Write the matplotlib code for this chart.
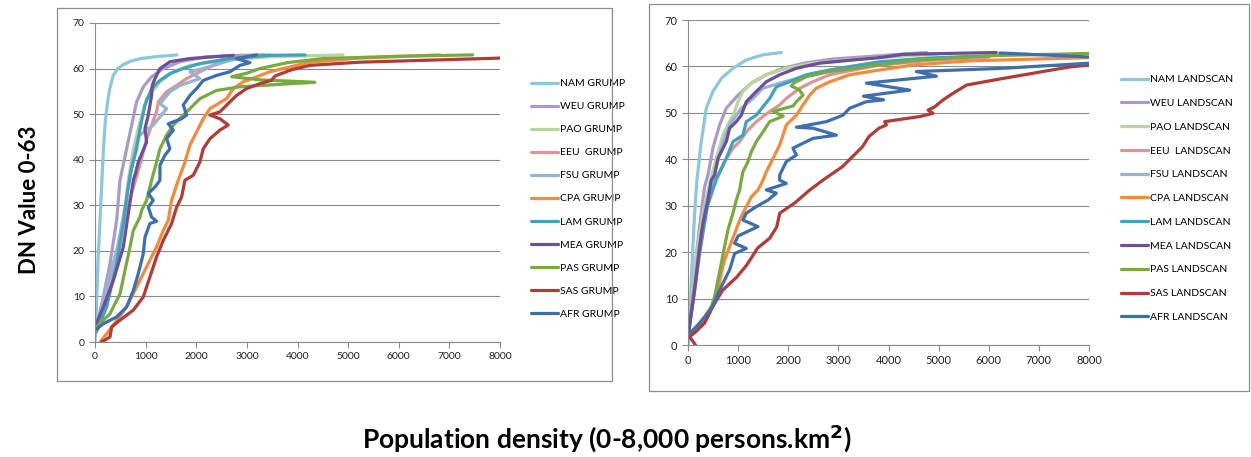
import matplotlib
matplotlib.use("Agg")
import matplotlib.pyplot as plt
from matplotlib.patches import Rectangle

plt.rcParams['font.family'] = ['Lato', 'DejaVu Sans']

# ---- GRUMP panel (density, DN value) ----
nam_grump_x = [0, 30, 60, 100, 135, 165, 200, 240, 290, 360, 450, 550, 700, 900, 1200, 1620]
nam_grump_y = [0, 8, 18, 27, 35, 42, 48, 52, 55.5, 58.5, 60, 60.8, 61.6, 62.2, 62.6, 63]
weu_grump_x = [0, 33, 165, 296, 428, 494, 625, 724, 822, 954, 1118, 1349, 1678, 2204, 2800, 3350]
weu_grump_y = [1.5, 3.3, 9.9, 17.2, 26.7, 35.5, 42.4, 47.6, 52.7, 56, 58.2, 60, 61.5, 62.6, 62.9, 63]
pao_grump_x = [0, 99, 296, 494, 592, 658, 757, 888, 1020, 1283, 1546, 1875, 2533, 3454, 4900]
pao_grump_y = [1.5, 4, 11.3, 20.8, 28.2, 35.5, 42.4, 48.3, 53.4, 57.1, 59.3, 60.7, 61.8, 62.6, 63]
eeu_grump_x = [0, 40, 220, 430, 625, 800, 921, 1020, 1118, 1217, 1250, 1415, 1612, 1809, 2072, 2336, 2467, 2900, 3450]
eeu_grump_y = [1.5, 4, 11, 20, 29, 35.5, 40.2, 44.6, 47.6, 50.5, 52.7, 54.9, 56.3, 57.8, 59.3, 60.7, 61.8, 62.6, 63]
fsu_grump_x = [0, 50, 230, 450, 600, 750, 855, 1000, 1151, 1415, 1283, 1480, 1678, 2072, 1875, 2138, 2665, 3000]
fsu_grump_y = [1.5, 4.5, 12, 21, 30, 40, 45, 46.5, 47.6, 51.2, 52.3, 54.9, 56.3, 57.8, 59.3, 60, 61.8, 62.5]
cpa_grump_x = [100, 230, 428, 625, 822, 1020, 1217, 1349, 1447, 1513, 1645, 1777, 1875, 2006, 2138,
               2270, 2599, 2730, 2928, 3191, 3454, 4244, 5231, 6810]
cpa_grump_y = [0, 1.8, 4.7, 7.7, 12.1, 16.5, 20.9, 24.5, 26.7, 31.1, 35.5, 39.5, 43.2, 46.1, 49,
               51.2, 53.4, 55.6, 57.1, 58.2, 59.3, 61.4, 62.3, 63]
lam_grump_x = [0, 60, 230, 428, 559, 640, 710, 822, 888, 987, 1118, 1283, 1480, 1744, 2072, 2665, 3454, 4150]
lam_grump_y = [2, 3, 7.7, 17.2, 26, 33, 37.5, 42.4, 46.8, 52, 55.6, 57.4, 58.9, 60, 61.1, 62.2, 62.9, 63]
mea_grump_x = [0, 165, 362, 559, 658, 757, 800, 855, 1020, 987, 1053, 1118, 1130, 1184, 1283, 1480, 1875, 2730]
mea_grump_y = [3.3, 7.7, 13.5, 20.8, 28.2, 35.5, 37, 39.5, 43.9, 46.8, 49.8, 54.1, 56.3, 57.8, 60, 61.5, 62.2, 62.9]
pas_grump_x = [0, 33, 296, 494, 592, 691, 757, 888, 921, 1020, 1085, 1118, 1217, 1283, 1415, 1546, 1744,
               1875, 2072, 2401, 2862, 3300, 4343, 3300, 2700, 3000, 3257, 3800, 4500, 6000, 7460]
pas_grump_y = [2, 3.3, 6.2, 10.6, 15.7, 20.8, 24.5, 27.4, 28.9, 31.1, 34, 35.5, 39.5, 42.4, 45.4, 47.6, 49.8,
               51.2, 53.4, 55.2, 56.0, 56.3, 57.0, 57.5, 58.2, 59, 60, 61.3, 62.2, 62.7, 63]
sas_grump_x = [130, 296, 329, 494, 757, 954, 1085, 1217, 1349, 1513, 1612, 1711, 1777, 1941, 2072, 2138,
               2270, 2467, 2632, 2467, 2270, 2467, 2665, 2796, 2994, 3257, 3480, 3560, 3900, 4244, 5231, 8000]
sas_grump_y = [0, 1.1, 3.3, 4.8, 7, 9.9, 14.3, 18.7, 22.3, 26, 29.6, 31.8, 35.5, 36.6, 39.5, 42.4,
               44.6, 46.5, 47.6, 49, 49.8, 50.5, 52.7, 54.1, 55.6, 56.7, 57.4, 58.4, 59.8, 60.7, 61.4, 62.3]
afr_grump_x = [0, 165, 428, 625, 757, 855, 954, 987, 1085, 1217, 1118, 1053, 1151, 1053, 1184, 1283, 1283,
               1382, 1480, 1415, 1546, 1447, 1711, 1809, 1744, 1875, 2006, 2138, 2401, 2665, 2862, 3060, 2796, 3191]
afr_grump_y = [2.6, 4, 5.5, 7.7, 11.3, 15, 19.4, 23, 26, 26.5, 27.4, 29.6, 31.1, 32.6, 34, 35.5, 38.8,
               41, 42.4, 44.6, 46.5, 47.9, 49, 49.8, 52, 54.1, 55.6, 57.4, 58.5, 59.3, 60.7, 61.3, 62.2, 63]

# ---- LANDSCAN panel ----
nam_land_x = [0, 30, 65, 132, 165, 178, 265, 364, 497, 664, 897, 1163, 1495, 1861]
nam_land_y = [0, 2, 14, 28.4, 33.5, 35.5, 43.8, 51, 54.6, 57.4, 59.6, 61.4, 62.5, 63]
weu_land_x = [0, 60, 150, 260, 331, 398, 497, 631, 764, 997, 1263, 1562, 1895, 2360, 2893, 3558, 4200, 4760]
weu_land_y = [1.8, 8, 18, 28, 34.1, 36.6, 42.4, 47.4, 51, 53.8, 56.4, 58.2, 59.6, 60.8, 61.6, 62.1, 62.6, 63]
pao_land_x = [0, 70, 180, 310, 440, 564, 697, 830, 930, 997, 1096, 1296, 1562, 1961, 2493, 3159, 3824, 5000]
pao_land_y = [2, 10, 20, 29, 35.2, 40.2, 45.2, 48.1, 50.3, 52.4, 54.6, 56.7, 58.2, 59.6, 60.7, 61.4, 61.9, 62.7]
eeu_land_x = [0, 110, 240, 380, 520, 730, 897, 1030, 1163, 1363, 1629, 1829, 1961, 2227, 2493, 2826,
              3292, 3824, 4800, 6000]
eeu_land_y = [1.8, 10, 20, 30, 35, 39.5, 42.4, 43.8, 45.9, 48.1, 50.3, 51.7, 53.1, 55.3, 56.7, 58.2,
              59.2, 60.3, 61.3, 62]
fsu_land_x = [0, 90, 210, 350, 480, 664, 830, 1063, 1296, 1495, 1829, 2161, 2493, 3026, 3558, 4300, 5000]
fsu_land_y = [2, 10, 20, 30, 35, 42.4, 47.4, 51, 53.1, 55.3, 56.4, 57.4, 58.5, 59.6, 60.5, 61.3, 61.8]
cpa_land_x = [0, 298, 464, 598, 664, 730, 830, 930, 1030, 1096, 1163, 1263, 1396, 1462, 1495, 1562, 1729,
              1829, 1895, 1961, 2161, 2294, 2427, 2560, 2826, 3225, 3625, 4480, 5620, 8000]
cpa_land_y = [1.8, 5.4, 8.3, 11.8, 15.4, 18.3, 21.2, 24, 26.9, 28.4, 29.8, 31.9, 33.4, 34.8, 35.5, 37.3, 40.9,
              43.1, 45.2, 47.4, 49.5, 51.7, 53.8, 55.3, 56.7, 58.2, 58.9, 60.3, 61.2, 61.9]
lam_land_x = [0, 100, 230, 390, 560, 764, 897, 1096, 1163, 1363, 1495, 1629, 1762, 2028, 2360, 2826,
              3425, 3824, 4800, 6000]
lam_land_y = [1.8, 10, 20, 30, 35.5, 40.2, 43.8, 45.2, 48.1, 49.5, 51.3, 53.1, 55.6, 56.7, 58.2, 59.2,
              60.3, 61, 61.8, 62.3]
mea_land_x = [0, 132, 232, 298, 398, 464, 531, 598, 764, 830, 963, 1063, 1163, 1363, 1562, 1829, 2161,
              2627, 3292, 3824, 4290, 6150]
mea_land_y = [1.8, 11.8, 21.2, 26.2, 31.2, 35.5, 36.6, 40.2, 43.8, 46.7, 48.1, 49.5, 52.4, 54.6, 56.7, 58.2, 59.6,
              60.7, 61.4, 61.9, 62.6, 63]
pas_land_x = [0, 232, 431, 531, 598, 664, 730, 797, 897, 963, 1030, 1063, 1096, 1196, 1263, 1363, 1495,
              1629, 1900, 1700, 2100, 2161, 2294, 2227, 2060, 2120, 2360, 2826, 3425, 3625, 4620, 6000, 8000]
pas_land_y = [1.8, 3.9, 6.8, 10.4, 14, 17.6, 21.2, 24.8, 28.4, 31.2, 33.4, 35.5, 37.3, 39.5, 41.6, 43.8, 45.9,
              48.1, 49.3, 50.3, 51.5, 52.4, 53.8, 54.9, 55.8, 56.5, 57.8, 58.9, 59.7, 60.1, 61.4, 62.3, 62.8]
sas_land_x = [150, 30, 130, 330, 490, 690, 970, 1170, 1390, 1630, 1770, 1830, 2130, 2430, 2690, 3080, 3480,
              3610, 3810, 3958, 3924, 4300, 4623, 4889, 4789, 4922, 5089, 5300, 5560, 6280, 7080, 7620, 8000]
sas_land_y = [0, 1.8, 2.6, 4.7, 8.2, 11.8, 14.6, 17.2, 20.9, 23, 25.4, 28.4, 30.6, 33.4, 35.5, 38.4, 42.7,
              44.9, 46.7, 47.4, 48.1, 48.7, 49.2, 49.9, 50.6, 51.3, 52.8, 54.3, 56, 57.4, 58.9, 59.9, 60.3]
afr_land_x = [0, 230, 490, 630, 830, 930, 1163, 930, 1000, 1396, 1096, 1163, 1363, 1595, 1762, 1562, 1962,
              1829, 1829, 1961, 2161, 2094, 2493, 2959, 2493, 2161, 2760, 3092, 3225, 3558, 3900, 3500,
              4423, 3560, 4956, 4556, 6286, 8016, 9300, 6220]
afr_land_y = [2.1, 4.7, 8.2, 11.8, 16.2, 19.7, 20.8, 21.9, 23.5, 25.5, 26.9, 28.4, 29.8, 31.2, 32.7, 33.4, 34.8,
              35.5, 36.6, 39.5, 40.9, 42.4, 44.5, 45.2, 46.7, 46.9, 48.1, 49.5, 51, 52.4, 52.8, 53.6,
              54.9, 56.4, 57.9, 58.9, 59.6, 60.7, 61.4, 62.9]

regions = ['NAM', 'WEU', 'PAO', 'EEU ', 'FSU', 'CPA', 'LAM', 'MEA', 'PAS', 'SAS', 'AFR']
colors = ['#8cc7dc', '#a99bc8', '#b9d49c', '#d99694', '#98b2d6', '#f58a3c',
          '#3ea3bd', '#6b4f98', '#7aa940', '#b23b38', '#3d6fb0']

grump = [(nam_grump_x, nam_grump_y), (weu_grump_x, weu_grump_y), (pao_grump_x, pao_grump_y),
         (eeu_grump_x, eeu_grump_y), (fsu_grump_x, fsu_grump_y), (cpa_grump_x, cpa_grump_y),
         (lam_grump_x, lam_grump_y), (mea_grump_x, mea_grump_y), (pas_grump_x, pas_grump_y),
         (sas_grump_x, sas_grump_y), (afr_grump_x, afr_grump_y)]
landscan = [(nam_land_x, nam_land_y), (weu_land_x, weu_land_y), (pao_land_x, pao_land_y),
            (eeu_land_x, eeu_land_y), (fsu_land_x, fsu_land_y), (cpa_land_x, cpa_land_y),
            (lam_land_x, lam_land_y), (mea_land_x, mea_land_y), (pas_land_x, pas_land_y),
            (sas_land_x, sas_land_y), (afr_land_x, afr_land_y)]

W, H = 1251, 457
fig = plt.figure(figsize=(W / 100, H / 100), dpi=100)


def px_rect(x0, y0, x1, y1):
    # pixel box (top-left origin) -> figure fraction [l, b, w, h]
    return [x0 / W, 1 - y1 / H, (x1 - x0) / W, (y1 - y0) / H]


# chart frames
for box in [(57, 8, 612, 381), (649, 4, 1249, 391)]:
    l, b, w, h = px_rect(*box)
    fig.patches.append(Rectangle((l, b), w, h, transform=fig.transFigure,
                                 fill=False, edgecolor='#8c8c8c', linewidth=0.9))


def draw_panel(rect, series, suffix, legend_xy, tick_size, spacing):
    ax = fig.add_axes(px_rect(*rect))
    for (xs, ys), name, c in zip(series, regions, colors):
        ax.plot(xs, ys, color=c, linewidth=2.3, label=name + ' ' + suffix,
                solid_joinstyle='round', solid_capstyle='round')
    ax.set_xlim(0, 8000)
    ax.set_ylim(0, 70)
    ax.set_xticks(range(0, 8001, 1000))
    ax.set_yticks(range(0, 71, 10))
    ax.yaxis.grid(True, color='#8a8a8a', linewidth=0.8)
    ax.set_axisbelow(True)
    for s in ['top', 'right']:
        ax.spines[s].set_visible(False)
    for s in ['left', 'bottom']:
        ax.spines[s].set_color('#8a8a8a')
        ax.spines[s].set_linewidth(0.8)
    ax.tick_params(colors='#8a8a8a', labelcolor='#222222', labelsize=tick_size,
                   length=4, width=0.8)
    lx, ly = legend_xy
    ax.legend(loc='upper left', bbox_to_anchor=(lx / W, 1 - ly / H),
              bbox_transform=fig.transFigure, frameon=False, fontsize=7.5,
              handlelength=2.6, handletextpad=0.15, labelspacing=spacing,
              borderpad=0, borderaxespad=0)
    return ax


draw_panel((95, 23, 500, 342), grump, 'GRUMP', (531, 79), 7.5, 1.32)
draw_panel((688, 20, 1089, 345), landscan, 'LANDSCAN', (1121, 75), 8, 1.39)

fig.text(30 / W, 1 - 200 / H, 'DN Value 0-63', rotation=90, ha='center', va='center',
         fontsize=16, fontweight='bold')
fig.text(607 / W, 1 - 438 / H, 'Population density (0-8,000 persons.km$^\\mathbf{2}$)',
         ha='center', va='center', fontsize=19, fontweight='bold')

fig.savefig('out.png', dpi=100)
